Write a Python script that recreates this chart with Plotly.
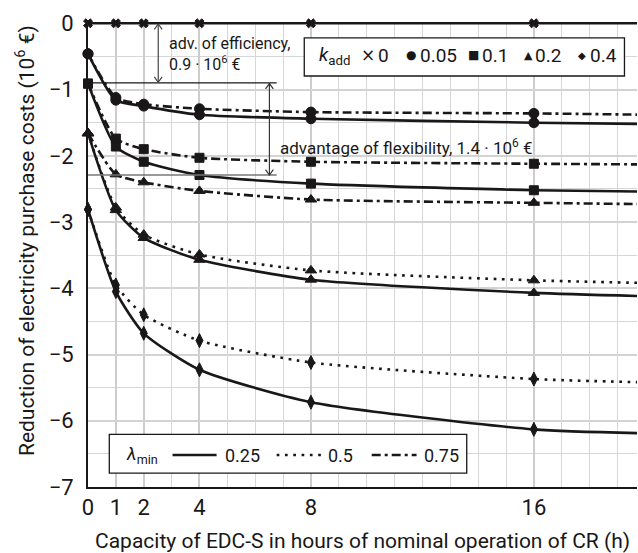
import plotly.graph_objects as go

# ---------------- data ----------------
hours = [0, 1, 2, 4, 8, 16, 20]          # last point only continues the curve to the plot edge
tick_hours = [0, 1, 2, 4, 8, 16]
y_ticks = [-7, -6, -5, -4, -3, -2, -1, 0]

k0_all = [0, 0, 0, 0, 0, 0, 0]
k005_l025 = [-0.46, -1.16, -1.25, -1.38, -1.44, -1.50, -1.52]
k005_l075 = [-0.46, -1.12, -1.22, -1.29, -1.34, -1.36, -1.38]
k01_l025 = [-0.91, -1.86, -2.09, -2.29, -2.42, -2.52, -2.54]
k01_l075 = [-0.91, -1.74, -1.90, -2.03, -2.09, -2.12, -2.13]
k02_l025 = [-1.66, -2.82, -3.24, -3.57, -3.87, -4.07, -4.12]
k02_l05 = [-1.66, -2.78, -3.19, -3.49, -3.73, -3.88, -3.92]
k02_l075 = [-1.66, -2.28, -2.40, -2.53, -2.66, -2.71, -2.73]
k04_l025 = [-2.81, -4.05, -4.68, -5.23, -5.72, -6.13, -6.19]
k04_l05 = [-2.81, -3.95, -4.40, -4.79, -5.12, -5.37, -5.42]

k_labels = ["0", "0.05", "0.1", "0.2", "0.4"]
k_glyphs = ["\u00d7", "\u25cf", "\u25a0", "\u25b2", "\u25c6"]
lam_labels = ["0.25", "0.5", "0.75"]

x_title = "Capacity of EDC-S in hours of nominal operation of CR (h)"
y_title = "Reduction of electricity purchase costs (10<sup>6</sup> \u20ac)"

# ---------------- styling ----------------
INK = "#1a1718"
FONT = "Roboto, Noto Sans, sans-serif"
DASH = {"0.25": "solid", "0.5": "2.7px,5.6px", "0.75": "9px,4px,3px,4px"}

fig = go.Figure()


def add(y, symbol, size, lam):
    sizes = [size] * (len(hours) - 1) + [0]
    fig.add_trace(go.Scatter(
        x=hours, y=y, mode="lines+markers",
        line=dict(color=INK, width=2.6, dash=DASH[lam], shape="spline", smoothing=0.6),
        marker=dict(symbol=symbol, size=sizes, color=INK, opacity=1,
                    line=dict(width=1, color=INK)),
        cliponaxis=False, showlegend=False, hoverinfo="skip"))


add(k0_all, "x", 8, "0.25")
add(k005_l075, "circle", 10, "0.75")
add(k005_l025, "circle", 10, "0.25")
add(k01_l075, "square", 9, "0.75")
add(k01_l025, "square", 9, "0.25")
add(k02_l075, "triangle-up", 10, "0.75")
add(k02_l05, "triangle-up", 10, "0.5")
add(k02_l025, "triangle-up", 10, "0.25")
add(k04_l05, "diamond-tall", 10, "0.5")
add(k04_l025, "diamond-tall", 10, "0.25")

shapes = []
annots = []

# legend boxes
shapes.append(dict(type="rect", xref="x", yref="y", x0=7.76, x1=19.25, y0=-0.795, y1=-0.22,
                   fillcolor="white", line=dict(color=INK, width=1.3), layer="between"))
shapes.append(dict(type="rect", xref="x", yref="y", x0=0.764, x1=13.59, y0=-6.79, y1=-6.205,
                   fillcolor="white", line=dict(color=INK, width=1.3), layer="between"))

# top legend (k_add)
ly = -0.479
annots.append(dict(x=8.2, y=ly, xref="x", yref="y", text="<i>k</i><sub>add</sub>", showarrow=False,
                   xanchor="left", yanchor="middle", font=dict(family=FONT, size=19, color=INK)))
glyph_x = [10.05, 11.6, 13.85, 15.79, 17.71]
label_x = [10.33, 11.85, 14.07, 15.98, 17.93]
glyph_sizes = [17, 12, 12, 11, 10]
for g, gx, gs, lab, lx in zip(k_glyphs, glyph_x, glyph_sizes, k_labels, label_x):
    annots.append(dict(x=gx, y=ly, xref="x", yref="y", text=g, showarrow=False,
                       xanchor="center", yanchor="middle", font=dict(family="DejaVu Sans", size=gs, color=INK)))
    annots.append(dict(x=lx, y=ly, xref="x", yref="y", text=lab, showarrow=False,
                       xanchor="left", yanchor="middle", font=dict(family=FONT, size=19, color=INK)))

# bottom legend (lambda_min)
by = -6.517
annots.append(dict(x=1.3, y=by, xref="x", yref="y", text="<i>\u03bb</i><sub>min</sub>", showarrow=False,
                   xanchor="left", yanchor="middle", font=dict(family=FONT, size=18, color=INK)))
samples = [(3.035, 4.614, "0.25", 4.85), (6.77, 8.43, "0.5", 8.55), (10.18, 11.79, "0.75", 11.97)]
for x0, x1, lab, lx in samples:
    shapes.append(dict(type="line", xref="x", yref="y", x0=x0, x1=x1, y0=by, y1=by,
                       line=dict(color=INK, width=2.6, dash=DASH[lab]), layer="above"))
    annots.append(dict(x=lx, y=by, xref="x", yref="y", text=lab, showarrow=False,
                       xanchor="left", yanchor="middle", font=dict(family=FONT, size=18, color=INK)))

# reference lines for the advantages
shapes.append(dict(type="line", xref="x", yref="y", x0=0, x1=6.77, y0=-0.90, y1=-0.90,
                   line=dict(color=INK, width=1.2), layer="above"))
shapes.append(dict(type="line", xref="x", yref="y", x0=0, x1=6.77, y0=-2.29, y1=-2.29,
                   line=dict(color="#777777", width=1.6), layer="above"))


def double_arrow(xa, ytop, ybot, col):
    dx, dy = 0.14, 0.08
    shapes.append(dict(type="line", xref="x", yref="y", x0=xa, x1=xa, y0=ytop, y1=ybot,
                       line=dict(color=col, width=1.2), layer="above"))
    shapes.append(dict(type="path", xref="x", yref="y",
                       path=f"M {xa-dx},{ytop-dy} L {xa},{ytop} L {xa+dx},{ytop-dy}",
                       line=dict(color=col, width=1.2), layer="above"))
    shapes.append(dict(type="path", xref="x", yref="y",
                       path=f"M {xa-dx},{ybot+dy} L {xa},{ybot} L {xa+dx},{ybot+dy}",
                       line=dict(color=col, width=1.2), layer="above"))


double_arrow(2.52, -0.01, -0.89, "#444444")
double_arrow(6.51, -0.91, -2.29, "#333333")

annots.append(dict(x=2.82, y=-0.47, xref="x", yref="y",
                   text="adv. of efficiency,<br>0.9 \u00b7 10<sup>6</sup> \u20ac", showarrow=False,
                   xanchor="left", yanchor="middle", align="left",
                   font=dict(family=FONT, size=16, color=INK)))
annots.append(dict(x=6.83, y=-1.87, xref="x", yref="y",
                   text="advantage of flexibility, 1.4 \u00b7 10<sup>6</sup> \u20ac", showarrow=False,
                   xanchor="left", yanchor="middle", font=dict(family=FONT, size=17, color=INK)))

# axis titles
annots.append(dict(x=0.5, y=-0.116, xref="paper", yref="paper", text=x_title, showarrow=False,
                   xanchor="center", yanchor="middle", font=dict(family=FONT, size=21, color=INK)))
annots.append(dict(x=-0.1148, y=0.531, xref="paper", yref="paper", text=y_title, showarrow=False,
                   textangle=-90, xanchor="center", yanchor="middle", font=dict(family=FONT, size=21, color=INK)))

fig.update_layout(
    width=638, height=553,
    margin=dict(l=88, r=1, t=22, b=66),
    paper_bgcolor="white", plot_bgcolor="white",
    font=dict(family=FONT, color=INK),
    shapes=shapes, annotations=annots,
    xaxis=dict(range=[0, 19.7], tickmode="array", tickvals=tick_hours,
               ticktext=[str(t) for t in tick_hours], ticks="", ticklabelstandoff=0,
               showgrid=True, gridcolor="#cdcdcd", gridwidth=2,
               minor=dict(tickmode="linear", tick0=0, dtick=1, showgrid=True,
                          gridcolor="#d6d6d6", gridwidth=1.3),
               showline=True, linecolor=INK, linewidth=2, zeroline=False,
               tickfont=dict(family=FONT, size=22, color=INK)),
    yaxis=dict(range=[-7, 0.02], tickmode="array", tickvals=y_ticks,
               ticktext=["\u2212" + str(-t) if t < 0 else "0" for t in y_ticks], ticks="",
               ticklabelstandoff=8,
               showgrid=True, gridcolor="#d3d3d3", gridwidth=1.6,
               minor=dict(tickmode="linear", tick0=0, dtick=0.5, showgrid=True,
                          gridcolor="#d6d6d6", gridwidth=1.3),
               showline=True, linecolor=INK, linewidth=2, zeroline=False,
               tickfont=dict(family=FONT, size=22, color=INK)),
)

fig.write_html("out.html")
